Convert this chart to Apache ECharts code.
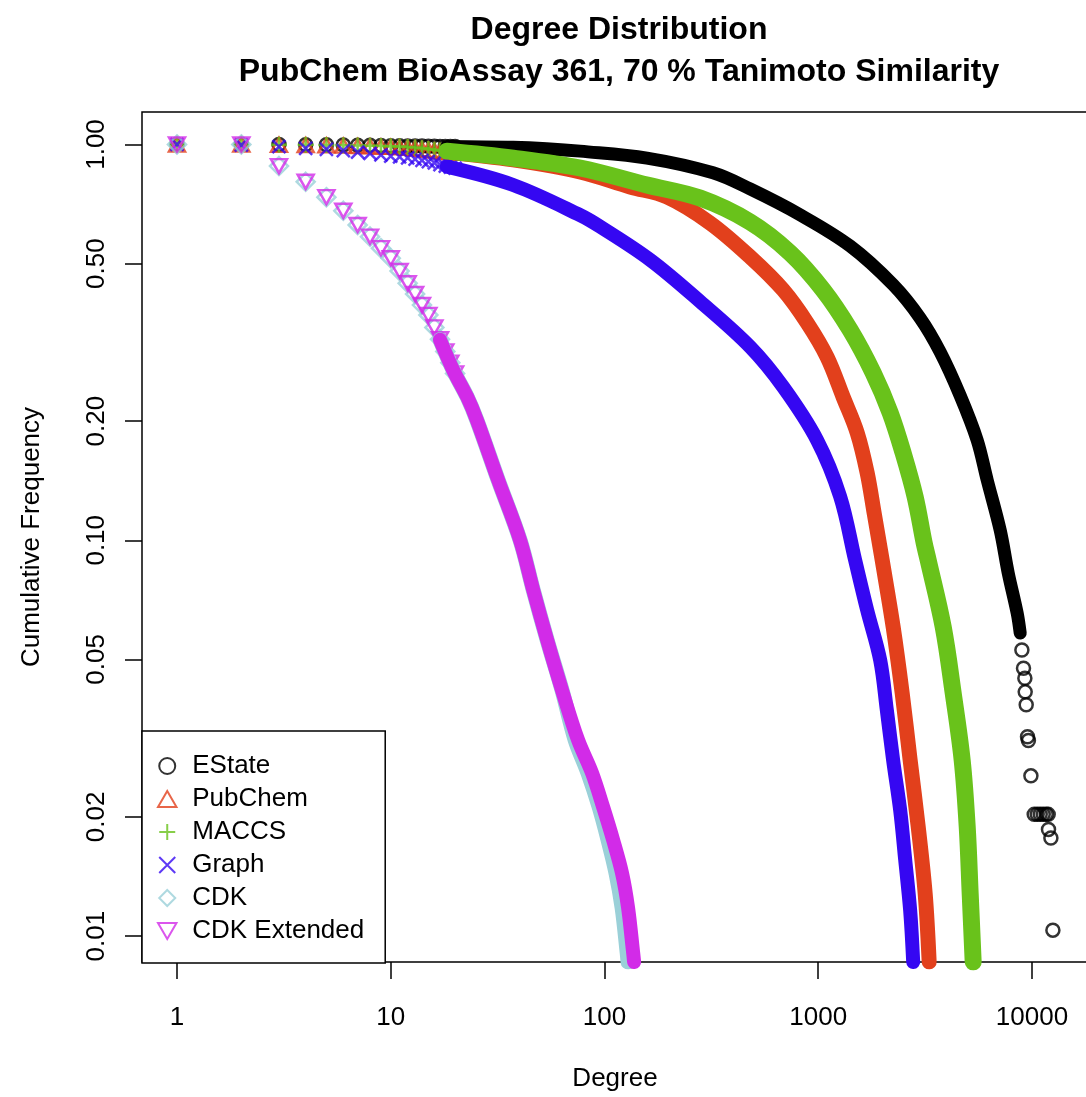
<!DOCTYPE html>
<html><head><meta charset="utf-8">
<script src="https://cdn.jsdelivr.net/npm/echarts@6/dist/echarts.min.js"></script>
<style>html,body{margin:0;padding:0;background:#fff}#c{width:1086px;height:1097px}</style>
</head><body><div id="c"></div>
<script>
const titleLines = ['Degree Distribution', 'PubChem BioAssay 361, 70 % Tanimoto Similarity'];
const seriesNames = ['EState', 'PubChem', 'MACCS', 'Graph', 'CDK', 'CDK Extended'];
const xTicks = [1, 10, 100, 1000, 10000];
const yTicks = [0.01, 0.02, 0.05, 0.1, 0.2, 0.5, 1];

// [degree, cumulative frequency] — individually visible markers
const estatePoints = [[1,1],[2,1],[3,1],[4,0.999],[5,0.998],[6,0.997],[7,0.996],[8,0.995],[9,0.994],[10,0.993],[11,0.992],[12,0.991],[13,0.991],[14,0.991],[15,0.99],[16,0.99],[17,0.989],[18,0.989],[19,0.988],[20,0.988],
  [8968,0.0528],[9125,0.0475],[9260,0.0448],[9294,0.0414],[9395,0.0384],[9528,0.0319],[9620,0.0312],[9883,0.0254],
  [10240,0.0203],[10576,0.0203],[10924,0.0203],[11283,0.0203],[11653,0.0203],[11908,0.0203],[11946,0.0186],[12257,0.0177],[12524,0.01035]];
const pubchemPoints = [[1,1],[2,1],[3,0.998],[4,0.997],[5,0.995],[6,0.993],[7,0.991],[8,0.989],[9,0.987],[10,0.986],[11,0.983],[12,0.981],[13,0.977],[14,0.973],[15,0.969],[16,0.965],[17,0.961],[18,0.958],[19,0.955],[20,0.952]];
const maccsPoints = [[1,1],[2,1],[3,0.999],[4,0.998],[5,0.997],[6,0.996],[7,0.994],[8,0.993],[9,0.991],[10,0.99],[11,0.988],[12,0.986],[13,0.982],[14,0.978],[15,0.974],[16,0.97],[17,0.966],[18,0.963],[19,0.96],[20,0.957]];
const graphPoints = [[1,1],[2,0.997],[3,0.987],[4,0.978],[5,0.972],[6,0.965],[7,0.956],[8,0.95],[9,0.941],[10,0.935],[11,0.93],[12,0.925],[13,0.918],[14,0.912],[15,0.905],[16,0.898],[17,0.89],[18,0.882],[19,0.876],[20,0.871]];
const cdkPoints = [[1,1],[2,1],[3,0.882],[4,0.805],[5,0.736],[6,0.68],[7,0.626],[8,0.585],[9,0.547],[10,0.516],[11,0.479],[12,0.446],[13,0.419],[14,0.393],[15,0.371],[16,0.345],[17,0.322],[18,0.3],[19,0.281],[20,0.264]];
const cdkExtPoints = [[1,1],[2,1],[3,0.882],[4,0.805],[5,0.736],[6,0.68],[7,0.626],[8,0.585],[9,0.547],[10,0.516],[11,0.479],[12,0.446],[13,0.419],[14,0.393],[15,0.371],[16,0.345],[17,0.322],[18,0.3],[19,0.281],[20,0.264]];

// [degree, cumulative frequency] — dense runs where markers merge into a band
const estateBand = [[18.3,0.989],[37.4,0.984],[53.6,0.976],[76.9,0.962],[158,0.924],[322,0.848],[480,0.772],[823,0.664],[1410,0.554],[2241,0.442],[2999,0.364],[3719,0.299],[4613,0.232],[5541,0.179],[6171,0.142],[7101,0.106],[7740,0.0827],[8523,0.0655],[8807,0.0583]];
const pubchemBand = [[18.3,0.957],[37.4,0.914],[76.9,0.852],[131.8,0.781],[196,0.737],[312,0.633],[480,0.52],[685,0.429],[888,0.354],[1101,0.29],[1308,0.23],[1521,0.187],[1694,0.148],[1827,0.117],[1991,0.0891],[2241,0.0604],[2470,0.0411],[2692,0.0278],[2935,0.0189],[3164,0.0128],[3303,0.0086]];
const maccsBand = [[18.3,0.962],[37.4,0.924],[76.9,0.872],[158,0.79],[280,0.732],[480,0.637],[739,0.532],[1054,0.429],[1410,0.34],[1806,0.265],[2170,0.21],[2497,0.166],[2841,0.1286],[3130,0.0984],[3268,0.0891],[3842,0.0604],[4279,0.0411],[4714,0.0278],[4976,0.0189],[5138,0.0128],[5307,0.0086]];
const graphBand = [[18.3,0.879],[37.4,0.79],[76.9,0.663],[95.4,0.62],[163.5,0.511],[280,0.401],[480,0.308],[685,0.244],[988,0.179],[1266,0.129],[1488,0.0891],[1694,0.0666],[1949,0.0498],[2094,0.0372],[2241,0.0278],[2417,0.0208],[2551,0.0156],[2692,0.0116],[2781,0.0086]];
const cdkBand = [[17,0.321],[19.6,0.269],[22.8,0.23],[25.3,0.201],[31.8,0.142],[40.3,0.1],[46.4,0.0749],[53.9,0.056],[63.3,0.0418],[72.9,0.0313],[83.8,0.0258],[94.4,0.0212],[103.9,0.0175],[113.3,0.0144],[120.9,0.0118],[127.6,0.0091],[128.9,0.0086]];
const cdkExtBand = [[17,0.321],[19.6,0.269],[22.8,0.23],[25.3,0.201],[31.8,0.142],[40.3,0.1],[46.4,0.0749],[53.9,0.056],[63.3,0.0418],[75.2,0.0313],[87.5,0.0258],[98.5,0.0212],[109.7,0.0175],[120.9,0.0144],[128.9,0.0118],[136.1,0.0091],[137.6,0.0086]];

const FONT = '"Liberation Sans", Arial, Helvetica, sans-serif';
const colors = ['#000000', '#e2401c', '#69c21b', '#3507f2', '#9ad0d8', '#d22be8'];
const symbols = [
  'circle',
  'path://M5,0L10,8.66L0,8.66Z',
  'path://M5,0L5,10M0,5L10,5',
  'path://M0,0L10,10M10,0L0,10',
  'path://M5,0L10,5L5,10L0,5Z',
  'path://M0,0L10,0L5,8.66Z'
];
const symSizes = [13, [16, 14], 16, 13, 18, [16, 14]];
const bandWidths = [13, 15, 17, 14, 15, 14];
const pointSets = [estatePoints, pubchemPoints, maccsPoints, graphPoints, cdkPoints, cdkExtPoints];
const bandSets = [estateBand, pubchemBand, maccsBand, graphBand, cdkBand, cdkExtBand];

const series = [];
seriesNames.forEach((name, i) => {
  series.push({
    name, type: 'scatter', data: pointSets[i], symbol: symbols[i], symbolSize: symSizes[i],
    itemStyle: { color: 'rgba(0,0,0,0)', borderColor: colors[i], borderWidth: 2.5 },
    silent: true, animation: false
  });
  series.push({
    name, type: 'line', data: bandSets[i], showSymbol: false, symbol: 'none', smooth: 0.35,
    lineStyle: { color: colors[i], width: bandWidths[i], cap: 'round', join: 'round' },
    itemStyle: { color: colors[i] },
    silent: true, animation: false
  });
});

const chart = echarts.init(document.getElementById('c'), null, { renderer: 'canvas' });
chart.setOption({
  backgroundColor: '#fff',
  animation: false,
  title: {
    text: titleLines.join('\n'),
    left: 619, top: 9, textAlign: 'center', padding: 0,
    textStyle: { fontFamily: FONT, fontSize: 32, fontWeight: 'bold', color: '#000', lineHeight: 42 }
  },
  grid: {
    left: 142, top: 112, width: 946, height: 850,
    show: true, borderColor: '#000', borderWidth: 1.5, backgroundColor: 'transparent',
    containLabel: false, outerBoundsMode: 'none'
  },
  xAxis: {
    type: 'log', min: 0.686, max: 18281,
    name: 'Degree', nameLocation: 'middle', nameGap: 104,
    nameTextStyle: { fontFamily: FONT, fontSize: 26, color: '#000' },
    axisLine: { show: false },
    axisTick: { show: true, length: 17, inside: false, customValues: xTicks, lineStyle: { color: '#000', width: 1.5 } },
    axisLabel: { customValues: xTicks, margin: 43, fontFamily: FONT, fontSize: 26, color: '#000',
      formatter: v => String(Math.round(v)) },
    splitLine: { show: false }, minorTick: { show: false }
  },
  yAxis: {
    type: 'log', min: 0.0086, max: 1.208,
    name: 'Cumulative Frequency', nameLocation: 'middle', nameGap: 97, nameRotate: 90,
    nameTextStyle: { fontFamily: FONT, fontSize: 26, color: '#000' },
    axisLine: { show: false },
    axisTick: { show: true, length: 17, inside: false, customValues: yTicks, lineStyle: { color: '#000', width: 1.5 } },
    axisLabel: { customValues: yTicks, rotate: 90, margin: 32, fontFamily: FONT, fontSize: 26, color: '#000',
      formatter: v => Number(v).toFixed(2) },
    splitLine: { show: false }, minorTick: { show: false }
  },
  legend: {
    orient: 'vertical', left: 142, top: 731,
    padding: [21, 21, 18, 15], itemGap: 5, itemWidth: 40, itemHeight: 16,
    borderColor: '#000', borderWidth: 1.5, backgroundColor: '#fff',
    selectedMode: false,
    textStyle: { fontFamily: FONT, fontSize: 26, color: '#000', lineHeight: 28 },
    data: seriesNames.map((name, i) => ({
      name, icon: symbols[i],
      itemStyle: { color: 'rgba(0,0,0,0)', borderColor: colors[i], borderWidth: 2 }
    }))
  },
  series
});
</script></body></html>
